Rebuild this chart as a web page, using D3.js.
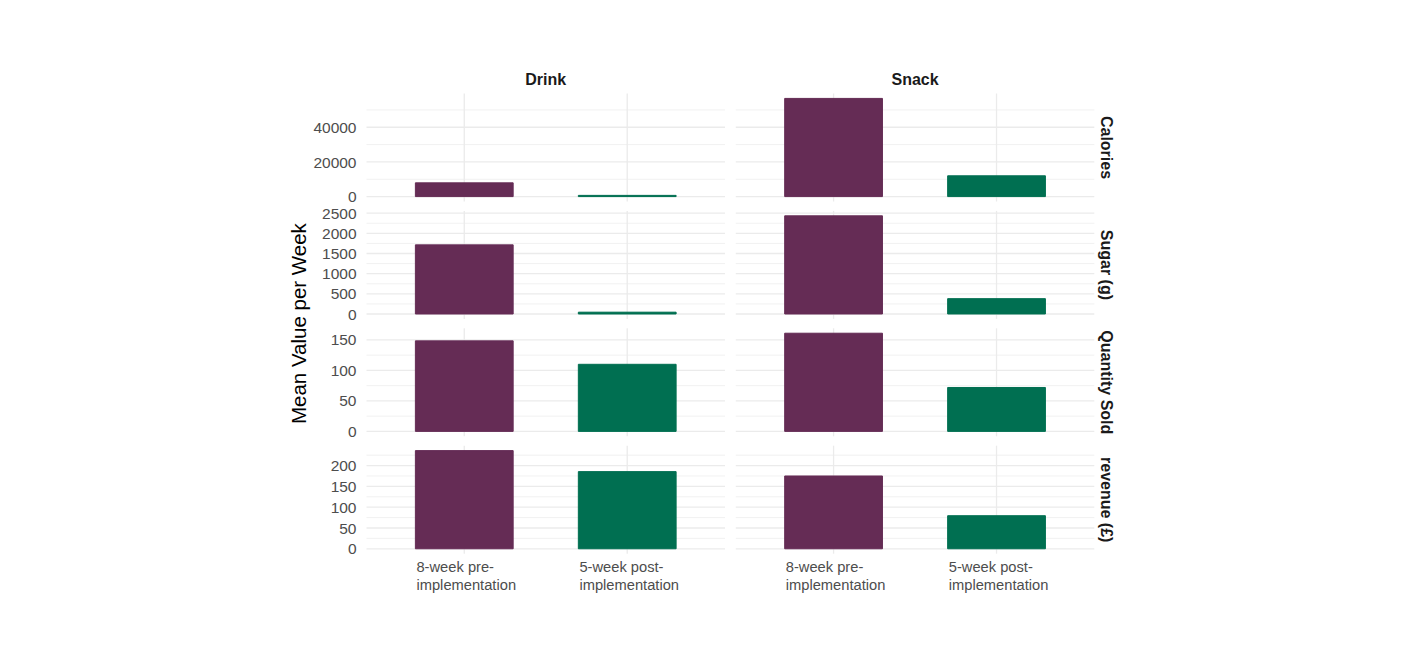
<!DOCTYPE html>
<html>
<head>
<meta charset="utf-8">
<style type="text/css">
body { margin: 0; background: #fff; }
svg { font-family: "Liberation Sans", Arial, sans-serif; }
.grid-major { stroke: #EBEBEB; stroke-width: 1.3; }
.grid-minor { stroke: #EBEBEB; stroke-width: 0.7; }
.tick-label { fill: #4D4D4D; font-size: 15.5px; }
.x-label { fill: #4D4D4D; font-size: 14.7px; }
.strip { fill: #1A1A1A; font-size: 16px; font-weight: bold; }
</style>
<script src="https://d3js.org/d3.v7.min.js"></script>
</head>
<body>
<script type="text/javascript">
// facets
var types   = ["Drink", "Snack"];
var metrics = ["Calories", "Sugar (g)", "Quantity Sold", "revenue (\u00a3)"];
var periods = ["8-week pre-implementation", "5-week post-implementation"];
var periodLines = [["8-week pre-", "implementation"], ["5-week post-", "implementation"]];

// mean value per week, one entry per metric (same order as metrics)
var drinkPre  = [7940, 1715, 148.5, 236];
var drinkPost = [700, 45, 110, 185.5];
var snackPre  = [56640, 2435, 161, 175];
var snackPost = [12000, 380, 72, 79.5];

var yTicks = [
	[0, 20000, 40000],
	[0, 500, 1000, 1500, 2000, 2500],
	[0, 50, 100, 150],
	[0, 50, 100, 150, 200]
];

var colors = ["#652C55", "#006F51"];

var width = 1416, height = 672;
var colX = [366.5, 735.8], colW = 358.5;
var rowY0 = 93.5, rowH = 108, rowGap = 9.4;

var svg = d3.select("body").append("svg").attr("width", width).attr("height", height);

var values = { Drink: [drinkPre, drinkPost], Snack: [snackPre, snackPost] };

metrics.forEach(function(m, r) {
	var top = rowY0 + r * (rowH + rowGap);
	var bottom = top + rowH;
	var rowMax = d3.max([drinkPre[r], drinkPost[r], snackPre[r], snackPost[r]]);
	var y = d3.scaleLinear().domain([-0.05 * rowMax, 1.05 * rowMax]).range([bottom, top]);
	var ticks = yTicks[r];
	var step = ticks[1] - ticks[0];
	var minor = [];
	for (var v = ticks[0] - step / 2; v <= y.domain()[1]; v += step) {
		if (v >= y.domain()[0]) minor.push(v);
	}

	types.forEach(function(t, c) {
		var x = d3.scalePoint().domain(periods).range([colX[c], colX[c] + colW]).padding(0.6);
		var g = svg.append("g");

		g.selectAll(".grid-minor").data(minor).enter().append("line")
			.attr("class", "grid-minor")
			.attr("x1", colX[c]).attr("x2", colX[c] + colW)
			.attr("y1", function(d) { return y(d); }).attr("y2", function(d) { return y(d); });
		g.selectAll(".grid-major").data(ticks).enter().append("line")
			.attr("class", "grid-major")
			.attr("x1", colX[c]).attr("x2", colX[c] + colW)
			.attr("y1", function(d) { return y(d); }).attr("y2", function(d) { return y(d); });
		g.selectAll(".grid-v").data(periods).enter().append("line")
			.attr("class", "grid-major")
			.attr("x1", function(d) { return x(d); }).attr("x2", function(d) { return x(d); })
			.attr("y1", top).attr("y2", bottom);

		var bw = x.step() * 0.6;
		var vals = values[t].map(function(arr) { return arr[r]; });
		g.selectAll("rect").data(vals).enter().append("rect")
			.attr("x", function(d, i) { return x(periods[i]) - bw / 2; })
			.attr("width", bw)
			.attr("y", function(d) { return y(d); })
			.attr("height", function(d) { return y(0) - y(d); })
			.attr("fill", function(d, i) { return colors[i]; })
			.attr("stroke", function(d, i) { return colors[i]; })
			.attr("stroke-width", 1)
			.attr("stroke-linejoin", "round");

		if (c === 0) {
			g.selectAll(".tick-label").data(ticks).enter().append("text")
				.attr("class", "tick-label")
				.attr("x", colX[0] - 10)
				.attr("y", function(d) { return y(d); })
				.attr("dy", "0.36em")
				.attr("text-anchor", "end")
				.text(function(d) { return d; });
		}

		if (r === metrics.length - 1) {
			periods.forEach(function(p, i) {
				var lab = g.append("text").attr("class", "x-label");
				periodLines[i].forEach(function(line, k) {
					lab.append("tspan").attr("x", 0).attr("y", bottom + 18.5 + k * 17.5).text(line);
				});
				var w = d3.max(lab.selectAll("tspan").nodes(), function(n) { return n.getComputedTextLength(); });
				lab.selectAll("tspan").attr("x", x(p) - w / 2 + 2);
			});
		}
	});

	// row strip on the right
	svg.append("text")
		.attr("class", "strip")
		.attr("transform", "translate(" + 1107 + "," + (top + rowH / 2) + ") rotate(90)")
		.attr("text-anchor", "middle")
		.attr("dy", "0.36em")
		.text(m);
});

// column strips
types.forEach(function(t, c) {
	svg.append("text")
		.attr("class", "strip")
		.attr("x", colX[c] + colW / 2)
		.attr("y", 79)
		.attr("dy", "0.36em")
		.attr("text-anchor", "middle")
		.text(t);
});

var plotMid = rowY0 + (4 * rowH + 3 * rowGap) / 2;
svg.append("text")
	.attr("transform", "translate(" + 299 + "," + plotMid + ") rotate(-90)")
	.attr("text-anchor", "middle")
	.attr("dy", "0.36em")
	.style("font-size", "20.5px")
	.style("fill", "#000")
	.text("Mean Value per Week");
</script>
</body>
</html>
